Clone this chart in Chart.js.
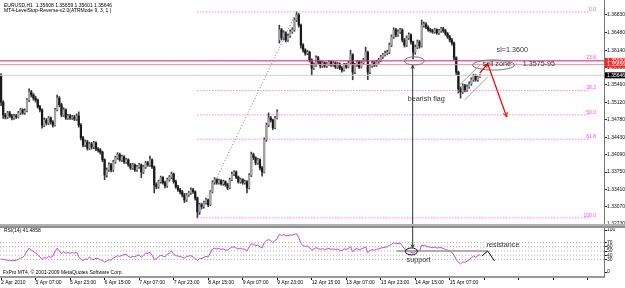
<!DOCTYPE html>
<html><head><meta charset="utf-8">
<script src="https://cdn.jsdelivr.net/npm/chart.js@4.4.1/dist/chart.umd.min.js"></script>
<style>
html,body{margin:0;padding:0;background:#fff;width:625px;height:288px;overflow:hidden;}
#main{position:absolute;left:0;top:0;}
#rsi{position:absolute;left:0;top:226px;}
</style></head><body>
<canvas id="main" width="625" height="226"></canvas>
<canvas id="rsi" width="625" height="62"></canvas>
<script>
// ---------- DATA ----------
const timeLabels = ['2 Apr 2010','5 Apr 07:00','5 Apr 23:00','6 Apr 15:00','7 Apr 07:00','7 Apr 23:00','8 Apr 15:00','9 Apr 07:00','9 Apr 23:00','12 Apr 15:00','13 Apr 07:00','13 Apr 23:00','14 Apr 15:00','15 Apr 07:00'];
const priceTicks = [1.36830,1.36480,1.36140,1.35800,1.35460,1.35120,1.34780,1.34430,1.34090,1.33750,1.33410,1.33070,1.32730];
const rsiTicks = [100,70,60,50,40,30,0];
const rsiLevels = [70,60,50,40,30];

const opens = [
1.3565,1.3512,1.3487,1.3483,1.3491,1.3485,1.3481,1.3485,1.3483,1.3491,
1.3497,1.3491,1.3495,1.3516,1.3532,1.3526,1.3520,1.3516,1.3503,1.3497,
1.3467,1.3477,1.3471,1.3481,1.3473,1.3467,1.3497,1.3520,1.3507,1.3487,
1.3497,1.3481,1.3485,1.3481,1.3483,1.3479,1.3485,1.3467,1.3442,1.3428,
1.3434,1.3422,1.3430,1.3424,1.3432,1.3420,1.3418,1.3414,1.3399,1.3369,
1.3379,1.3389,1.3379,1.3395,1.3403,1.3409,1.3399,1.3405,1.3395,1.3399,
1.3389,1.3383,1.3389,1.3379,1.3385,1.3389,1.3375,1.3385,1.3393,1.3389,
1.3399,1.3385,1.3350,1.3346,1.3356,1.3364,1.3354,1.3348,1.3360,1.3365,
1.3371,1.3356,1.3346,1.3340,1.3336,1.3330,1.3320,1.3330,1.3334,1.3340,
1.3336,1.3324,1.3297,1.3311,1.3307,1.3315,1.3320,1.3311,1.3336,1.3354,
1.3360,1.3354,1.3358,1.3352,1.3356,1.3350,1.3344,1.3360,1.3371,1.3375,
1.3365,1.3356,1.3360,1.3354,1.3356,1.3344,1.3369,1.3409,1.3403,1.3393,
1.3399,1.3383,1.3375,1.3438,1.3467,1.3481,1.3477,1.3462,1.3481,1.3634,
1.3654,1.3638,1.3648,1.3634,1.3642,1.3650,1.3654,1.3673,1.3683,1.3663,
1.3624,1.3614,1.3608,1.3610,1.3595,1.3579,1.3585,1.3599,1.3591,1.3583,
1.3589,1.3583,1.3587,1.3591,1.3585,1.3589,1.3581,1.3587,1.3579,1.3575,
1.3585,1.3581,1.3589,1.3605,1.3571,1.3585,1.3591,1.3581,1.3589,1.3595,
1.3610,1.3571,1.3583,1.3589,1.3585,1.3591,1.3595,1.3601,1.3605,1.3608,
1.3610,1.3624,1.3640,1.3654,1.3644,1.3650,1.3654,1.3634,1.3624,1.3638,
1.3644,1.3630,1.3610,1.3620,1.3630,1.3622,1.3663,1.3665,1.3659,1.3654,
1.3652,1.3650,1.3654,1.3648,1.3652,1.3656,1.3652,1.3646,1.3640,1.3634,
1.3628,1.3599,1.3571,1.3538,1.3532,1.3544,1.3536,1.3542,1.3548,1.3556,
1.3563,1.3556,1.35608];

const highs = [
1.3568,1.3515,1.3490,1.3494,1.3494,1.3488,1.3488,1.3488,1.3494,1.3500,
1.3499,1.3499,1.3519,1.3538,1.3535,1.3529,1.3524,1.3518,1.3506,1.3499,
1.3481,1.3480,1.3484,1.3483,1.3476,1.3500,1.3526,1.3523,1.3510,1.3501,
1.3499,1.3488,1.3488,1.3486,1.3486,1.3489,1.3493,1.3470,1.3445,1.3438,
1.3437,1.3433,1.3433,1.3435,1.3434,1.3423,1.3421,1.3416,1.3401,1.3383,
1.3393,1.3392,1.3398,1.3406,1.3413,1.3412,1.3408,1.3407,1.3402,1.3401,
1.3392,1.3392,1.3391,1.3388,1.3392,1.3391,1.3388,1.3396,1.3396,1.3406,
1.3401,1.3387,1.3354,1.3359,1.3367,1.3366,1.3357,1.3363,1.3368,1.3375,
1.3373,1.3359,1.3349,1.3343,1.3339,1.3333,1.3333,1.3337,1.3344,1.3343,
1.3338,1.3326,1.3314,1.3314,1.3318,1.3324,1.3322,1.3339,1.3358,1.3364,
1.3362,1.3361,1.3360,1.3359,1.3358,1.3353,1.3363,1.3375,1.3378,1.3377,
1.3367,1.3363,1.3362,1.3359,1.3358,1.3372,1.3414,1.3412,1.3405,1.3402,
1.3401,1.3386,1.3442,1.3471,1.3491,1.3484,1.3479,1.3484,1.3497,1.3663,
1.3657,1.3652,1.3650,1.3646,1.3654,1.3658,1.3677,1.3689,1.3686,1.3665,
1.3627,1.3617,1.3614,1.3612,1.3597,1.3589,1.3603,1.3602,1.3594,1.3592,
1.3591,1.3590,1.3594,1.3593,1.3592,1.3591,1.3590,1.3589,1.3582,1.3588,
1.3588,1.3592,1.3614,1.3607,1.3588,1.3594,1.3593,1.3592,1.3598,1.3620,
1.3612,1.3586,1.3592,1.3592,1.3594,1.3598,1.3604,1.3608,1.3612,1.3614,
1.3628,1.3644,1.3658,1.3657,1.3654,1.3657,1.3656,1.3637,1.3642,1.3648,
1.3646,1.3632,1.3624,1.3634,1.3633,1.3673,1.3669,1.3668,1.3662,1.3657,
1.3655,1.3657,1.3656,1.3655,1.3659,1.3659,1.3655,1.3649,1.3643,1.3637,
1.3630,1.3601,1.3573,1.3542,1.3548,1.3547,1.3546,1.3552,1.3560,1.3567,
1.3566,1.3564,1.35659];

const lows = [
1.3505,1.3480,1.3479,1.3480,1.3482,1.3477,1.3478,1.3480,1.3481,1.3488,
1.3488,1.3488,1.3493,1.3513,1.3522,1.3516,1.3512,1.3500,1.3493,1.3461,
1.3464,1.3467,1.3468,1.3469,1.3463,1.3465,1.3495,1.3503,1.3483,1.3484,
1.3478,1.3478,1.3478,1.3478,1.3476,1.3476,1.3463,1.3438,1.3424,1.3425,
1.3418,1.3419,1.3420,1.3421,1.3417,1.3414,1.3410,1.3395,1.3360,1.3365,
1.3376,1.3375,1.3376,1.3392,1.3400,1.3396,1.3396,1.3392,1.3392,1.3386,
1.3380,1.3380,1.3376,1.3376,1.3382,1.3364,1.3372,1.3382,1.3386,1.3386,
1.3382,1.3334,1.3342,1.3343,1.3353,1.3351,1.3344,1.3345,1.3357,1.3362,
1.3353,1.3343,1.3337,1.3332,1.3326,1.3315,1.3317,1.3327,1.3331,1.3333,
1.3320,1.3285,1.3292,1.3303,1.3304,1.3312,1.3307,1.3309,1.3334,1.3351,
1.3351,1.3351,1.3349,1.3349,1.3347,1.3340,1.3342,1.3358,1.3368,1.3362,
1.3353,1.3353,1.3351,1.3351,1.3334,1.3342,1.3366,1.3399,1.3389,1.3390,
1.3379,1.3367,1.3373,1.3435,1.3464,1.3473,1.3458,1.3460,1.3479,1.3628,
1.3634,1.3634,1.3630,1.3631,1.3639,1.3647,1.3651,1.3670,1.3659,1.3618,
1.3610,1.3604,1.3605,1.3591,1.3565,1.3576,1.3582,1.3587,1.3579,1.3580,
1.3580,1.3580,1.3584,1.3582,1.3582,1.3578,1.3578,1.3576,1.3571,1.3573,
1.3578,1.3579,1.3587,1.3556,1.3568,1.3582,1.3578,1.3579,1.3586,1.3593,
1.3556,1.3568,1.3580,1.3582,1.3582,1.3588,1.3592,1.3598,1.3602,1.3605,
1.3607,1.3621,1.3637,1.3640,1.3641,1.3647,1.3630,1.3620,1.3621,1.3635,
1.3626,1.3597,1.3606,1.3617,1.3618,1.3620,1.3659,1.3656,1.3651,1.3649,
1.3647,1.3647,1.3645,1.3645,1.3649,1.3649,1.3643,1.3637,1.3630,1.3624,
1.3595,1.3566,1.3530,1.3520,1.3529,1.3532,1.3533,1.3539,1.3545,1.3553,
1.3553,1.3553,1.35601];

const closes = [
1.3512,1.3487,1.3483,1.3491,1.3485,1.3481,1.3485,1.3483,1.3491,1.3497,
1.3491,1.3495,1.3516,1.3532,1.3526,1.3520,1.3516,1.3503,1.3497,1.3467,
1.3477,1.3471,1.3481,1.3473,1.3467,1.3497,1.3520,1.3507,1.3487,1.3497,
1.3481,1.3485,1.3481,1.3483,1.3479,1.3485,1.3467,1.3442,1.3428,1.3434,
1.3422,1.3430,1.3424,1.3432,1.3420,1.3418,1.3414,1.3399,1.3369,1.3379,
1.3389,1.3379,1.3395,1.3403,1.3409,1.3399,1.3405,1.3395,1.3399,1.3389,
1.3383,1.3389,1.3379,1.3385,1.3389,1.3375,1.3385,1.3393,1.3389,1.3399,
1.3385,1.3350,1.3346,1.3356,1.3364,1.3354,1.3348,1.3360,1.3365,1.3371,
1.3356,1.3346,1.3340,1.3336,1.3330,1.3320,1.3330,1.3334,1.3340,1.3336,
1.3324,1.3297,1.3311,1.3307,1.3315,1.3320,1.3311,1.3336,1.3354,1.3360,
1.3354,1.3358,1.3352,1.3356,1.3350,1.3344,1.3360,1.3371,1.3375,1.3365,
1.3356,1.3360,1.3354,1.3356,1.3344,1.3369,1.3409,1.3403,1.3393,1.3399,
1.3383,1.3375,1.3438,1.3467,1.3481,1.3477,1.3462,1.3481,1.3493,1.3654,
1.3638,1.3648,1.3634,1.3642,1.3650,1.3654,1.3673,1.3683,1.3663,1.3624,
1.3614,1.3608,1.3610,1.3595,1.3579,1.3585,1.3599,1.3591,1.3583,1.3589,
1.3583,1.3587,1.3591,1.3585,1.3589,1.3581,1.3587,1.3579,1.3575,1.3585,
1.3581,1.3589,1.3605,1.3571,1.3585,1.3591,1.3581,1.3589,1.3595,1.3610,
1.3571,1.3583,1.3589,1.3585,1.3591,1.3595,1.3601,1.3605,1.3608,1.3610,
1.3624,1.3640,1.3654,1.3644,1.3650,1.3654,1.3634,1.3624,1.3638,1.3644,
1.3630,1.3610,1.3620,1.3630,1.3622,1.3663,1.3665,1.3659,1.3654,1.3652,
1.3650,1.3654,1.3648,1.3652,1.3656,1.3652,1.3646,1.3640,1.3634,1.3628,
1.3599,1.3571,1.3538,1.3532,1.3544,1.3536,1.3542,1.3548,1.3556,1.3563,
1.3556,1.3561,1.35646];

const rsiValues = [
31,30,29,28,27,27,27,28,30,33,
35,40,50,57,52,49,46,40,36,30,
35,33,37,35,38,48,57,50,44,48,
45,46,45,46,45,47,36,30,28,31,
30,36,31,29,33,32,29,27,24,26,
29,28,33,36,39,37,40,41,42,37,
35,37,36,39,41,35,40,45,44,47,
40,30,32,36,40,38,36,42,45,50,
42,39,38,37,35,33,37,38,39,36,
32,27,32,32,35,37,36,45,55,57,
55,56,54,55,53,52,56,59,60,57,
55,56,55,54,50,60,67,66,63,64,
60,57,70,75,77,75,70,75,79,90,
87,89,86,87,88,88,90,91,82,68,
63,61,62,58,52,55,58,56,54,56,
53,55,56,54,55,53,55,52,51,55,
54,56,60,48,54,56,53,55,57,60,
46,51,53,52,54,55,57,58,59,60,
63,66,70,67,68,69,62,55,53,50,
47,45,48,52,50,64,63,62,60,59,
58,59,57,58,58,56,54,52,49,47,
40,30,23,19,24,23,26,29,34,38,
35,39,41.49];

// annotation anchors (bar index, price / rsi)
const fibLevels = [0, 23.6, 38.2, 50, 61.8, 100];
const fibHigh = 1.3689, fibLow = 1.3285;
const fibLowBar = 91, fibHighBar = 137, fibEndBar = 273, fibLabelBar = 275.8;
const levelLines = [1.3593, 1.35856];
const bidPrice = 1.35646;
const flagUpper = [[212.6, 1.35457], [221.9, 1.35849]];
const flagLower = [[214.9, 1.35163], [225.6, 1.35614]];
const redArrow = [[221.9, 1.35692], [225.6, 1.35869], [234.4, 1.34829]];
const touchEllipse = {bar: 191.6, price: 1.3593, rx: 4.6, ry: 0.0008};
const sellEllipse = {bar: 228.3, price: 1.35849, rx: 9.7, ry: 0.001};
const linkBar = 190.8, linkTopPrice = 1.3584, linkRsiTip = 58;
const mainTexts = [
  {t: 'sl=1.3600', bar: 229.7, price: 1.36143},
  {t: 'sell zone', bar: 223.2, price: 1.35859},
  {t: '1.3575-95', bar: 241.8, price: 1.35859},
  {t: 'bearish flag', bar: 188.5, price: 1.35182}
];
const supportEllipse = {bar: 190.2, rsi: 49, rx: 2.8, ry: 8.3};
const resistLine = [[183.4, 50], [225.6, 50]];
const resistHat = [[222.8, 38], [225.6, 50], [228.8, 26]];
const rsiTexts = [
  {t: 'support', bar: 188, rsi: 28.6},
  {t: 'resistance', bar: 225.1, rsi: 64.3}
];
const headerLine1 = 'EURUSD,H1  1.35608 1.35659 1.35601 1.35646';
const headerLine2 = 'MT4-LevelStop-Reverse-v2.0(ATRMode 9, 3, 1 )';
const rsiTitle = 'RSI(14) 41.4858';
const copyright = 'FxPro MT4, \u00A9 2001-2009 MetaQuotes Software Corp.';

// ---------- helpers ----------
const SLOTS = 280;
const slotLabels = Array.from({length: SLOTS}, (_, i) => (i % 16 === 0 && timeLabels[i / 16]) ? timeLabels[i / 16] : '');
const FONT = '"Liberation Sans", Arial, sans-serif';

function seg(ctx, pts, color, width, dash) {
  ctx.save(); ctx.strokeStyle = color; ctx.lineWidth = width; ctx.setLineDash(dash || []);
  ctx.beginPath();
  pts.forEach((p, k) => k ? ctx.lineTo(p[0], p[1]) : ctx.moveTo(p[0], p[1]));
  ctx.stroke(); ctx.restore();
}
function head(ctx, x0, y0, x1, y1, size, color) {
  const ang = Math.atan2(y1 - y0, x1 - x0);
  ctx.save(); ctx.strokeStyle = color; ctx.lineWidth = 1; ctx.setLineDash([]);
  ctx.beginPath();
  ctx.moveTo(x1 - size * Math.cos(ang - 0.45), y1 - size * Math.sin(ang - 0.45));
  ctx.lineTo(x1, y1);
  ctx.lineTo(x1 - size * Math.cos(ang + 0.45), y1 - size * Math.sin(ang + 0.45));
  ctx.stroke(); ctx.restore();
}
function ell(ctx, cx, cy, rx, ry, color, w) {
  ctx.save(); ctx.strokeStyle = color; ctx.lineWidth = w; ctx.beginPath();
  ctx.ellipse(cx, cy, Math.abs(rx), Math.abs(ry), 0, 0, Math.PI * 2); ctx.stroke(); ctx.restore();
}
function txt(ctx, s, x, y, size, color, align) {
  ctx.save(); ctx.font = size + 'px ' + FONT; ctx.fillStyle = color;
  ctx.textAlign = align || 'left'; ctx.textBaseline = 'middle'; ctx.fillText(s, x, y); ctx.restore();
}

// ---------- main price chart ----------
const mainOverlay = {
  id: 'mainOverlay',
  afterDraw(chart) {
    const {ctx, chartArea: a, scales} = chart;
    const X = i => scales.x.getPixelForValue(i);
    const Y = p => scales.y.getPixelForValue(p);
    txt(ctx, headerLine1, 4, 5.5, 5, '#000');
    txt(ctx, headerLine2, 4, 11, 5, '#000');
    ctx.save();
    ctx.beginPath(); ctx.rect(a.left, a.top, a.right - a.left, a.bottom - a.top); ctx.clip();
    seg(ctx, [[a.left, Y(bidPrice)], [a.right, Y(bidPrice)]], '#cfcfcf', 1);
    seg(ctx, [[a.left, Y(levelLines[1])], [a.right, Y(levelLines[1])]], '#f09090', 1);
    seg(ctx, [[a.left, Y(levelLines[0])], [a.right, Y(levelLines[0])]], '#d8205a', 1);
    fibLevels.forEach(l => {
      const p = fibHigh - (fibHigh - fibLow) * l / 100;
      seg(ctx, [[X(fibLowBar), Y(p)], [X(fibEndBar), Y(p)]], '#ff44ff', 1, [1, 2]);
      txt(ctx, l.toFixed(1), X(fibLabelBar), Y(p) - 2.5, 5, '#ff44ff', 'right');
    });
    seg(ctx, [[X(fibLowBar), Y(fibLow)], [X(fibHighBar), Y(fibHigh)]], '#7070d0', 1, [1, 2]);
    ell(ctx, X(touchEllipse.bar), Y(touchEllipse.price),
        X(touchEllipse.bar + touchEllipse.rx) - X(touchEllipse.bar),
        Y(touchEllipse.price) - Y(touchEllipse.price + touchEllipse.ry), '#777', 1);
    ell(ctx, X(sellEllipse.bar), Y(sellEllipse.price),
        X(sellEllipse.bar + sellEllipse.rx) - X(sellEllipse.bar),
        Y(sellEllipse.price) - Y(sellEllipse.price + sellEllipse.ry), '#777', 1);
    seg(ctx, flagUpper.map(p => [X(p[0]), Y(p[1])]), '#999', 1);
    seg(ctx, flagLower.map(p => [X(p[0]), Y(p[1])]), '#999', 1);
    const ra = redArrow.map(p => [X(p[0]), Y(p[1])]);
    seg(ctx, ra, '#ff0000', 1.2);
    head(ctx, ra[0][0], ra[0][1], ra[1][0], ra[1][1], 4, '#ff0000');
    head(ctx, ra[1][0], ra[1][1], ra[2][0], ra[2][1], 5, '#ff0000');
    ctx.restore();
    const lx = X(linkBar), ly = Y(linkTopPrice);
    seg(ctx, [[lx, ly], [lx, chart.height]], '#333', 1);
    head(ctx, lx, ly + 10, lx, ly, 3.5, '#333');
    mainTexts.forEach(o => txt(ctx, o.t, X(o.bar), Y(o.price), 7.2, '#333'));
    ctx.fillStyle = '#b0b0b0'; ctx.fillRect(0, a.bottom, chart.width, chart.height - a.bottom);
    const bx = a.right + 1, bw = chart.width - bx;
    [[levelLines[0], '#ff2020'], [levelLines[1], '#ff2020'], [bidPrice, '#000']].forEach(([p, c]) => {
      ctx.fillStyle = c; ctx.fillRect(bx, Y(p) - 3, bw, 6);
    });
    [[levelLines[0], '1.35930'], [levelLines[1], '1.35856'], [bidPrice, '1.35646']].forEach(([p, s]) => {
      txt(ctx, s, bx + 2, Y(p), 5, '#fff');
    });
  }
};

new Chart(document.getElementById('main'), {
  type: 'bar',
  data: {
    labels: slotLabels,
    datasets: [
      { data: lows.map((l, i) => [l, highs[i]]), backgroundColor: '#3a3a3a', barThickness: 1, grouped: false, order: 2 },
      { data: opens.map((o, i) => [o, closes[i]]), backgroundColor: opens.map((o, i) => closes[i] >= o ? '#a4a4a4' : '#1a1a1a'),
        barThickness: 1.6, grouped: false, minBarLength: 1, order: 1 }
    ]
  },
  options: {
    responsive: false, animation: false, devicePixelRatio: 1, events: [],
    layout: { padding: { top: 0, bottom: 2, left: 0, right: 0 } },
    plugins: { legend: { display: false }, tooltip: { enabled: false } },
    scales: {
      x: { type: 'category', offset: true, display: false },
      y: {
        position: 'right', min: 1.3273, max: 1.37124,
        afterBuildTicks: s => { s.ticks = priceTicks.map(v => ({ value: v })); },
        afterFit: s => { s.width = 21; s.paddingTop = 0; s.paddingBottom = 0; },
        grid: { drawOnChartArea: false, drawTicks: true, tickLength: 3, color: '#222' },
        border: { display: true, color: '#777', width: 1 },
        ticks: { autoSkip: false, padding: 0, color: '#111', font: { family: FONT, size: 5 }, callback: v => v.toFixed(5) }
      }
    }
  },
  plugins: [mainOverlay]
});

// ---------- RSI chart ----------
const rsiOverlay = {
  id: 'rsiOverlay',
  beforeDatasetsDraw(chart) {
    const {ctx, chartArea: a, scales} = chart;
    const Y = v => scales.y.getPixelForValue(v);
    rsiLevels.forEach(v => seg(ctx, [[a.left, Y(v)], [a.right, Y(v)]], '#b0b0b0', 1, [1, 2]));
  },
  afterDraw(chart) {
    const {ctx, chartArea: a, scales} = chart;
    const X = i => scales.x.getPixelForValue(i);
    const Y = v => scales.y.getPixelForValue(v);
    ctx.fillStyle = '#909090'; ctx.fillRect(0, 0, chart.width, a.top);
    txt(ctx, rsiTitle, 4, 5, 5, '#000');
    txt(ctx, copyright, 3, 47, 5, '#000');
    seg(ctx, resistLine.map(p => [X(p[0]), Y(p[1])]), '#999', 1.5);
    seg(ctx, resistHat.map(p => [X(p[0]), Y(p[1])]), '#111', 1);
    ell(ctx, X(supportEllipse.bar), Y(supportEllipse.rsi),
        X(supportEllipse.bar + supportEllipse.rx) - X(supportEllipse.bar),
        Y(supportEllipse.rsi) - Y(supportEllipse.rsi + supportEllipse.ry), '#111', 1);
    rsiTexts.forEach(o => txt(ctx, o.t, X(o.bar), Y(o.rsi), 7.2, '#333'));
    const lx = X(linkBar);
    seg(ctx, [[lx, 0], [lx, Y(linkRsiTip)]], '#333', 1);
    head(ctx, lx, Y(linkRsiTip) - 10, lx, Y(linkRsiTip), 3.5, '#333');
  }
};

new Chart(document.getElementById('rsi'), {
  type: 'line',
  data: {
    labels: slotLabels,
    datasets: [{ data: rsiValues, borderColor: '#c24ccc', borderWidth: 1, pointRadius: 0, tension: 0, fill: false }]
  },
  options: {
    responsive: false, animation: false, devicePixelRatio: 1, events: [],
    layout: { padding: { top: 2, bottom: 0, left: 0, right: 0 } },
    plugins: { legend: { display: false }, tooltip: { enabled: false } },
    scales: {
      x: {
        type: 'category', offset: true,
        afterFit: s => { s.height = 11; s.paddingLeft = 0; s.paddingRight = 0; },
        grid: { drawOnChartArea: false, drawTicks: true, tickLength: 3, offset: false,
                color: c => (c.index % 16 === 0 ? '#000' : 'rgba(0,0,0,0)') },
        border: { display: true, color: '#999', width: 2 },
        ticks: { autoSkip: false, maxRotation: 0, minRotation: 0, align: 'start', padding: 0, color: '#000',
                 font: { family: FONT, size: 5 } }
      },
      y: {
        position: 'right', min: -11.9, max: 104.8,
        afterBuildTicks: s => { s.ticks = rsiTicks.map(v => ({ value: v })); },
        afterFit: s => { s.width = 21; s.paddingTop = 0; s.paddingBottom = 0; },
        grid: { drawOnChartArea: false, drawTicks: true, tickLength: 3, color: '#222' },
        border: { display: true, color: '#777', width: 1 },
        ticks: { autoSkip: false, padding: 0, color: '#111', font: { family: FONT, size: 5 } }
      }
    }
  },
  plugins: [rsiOverlay]
});
</script>
</body></html>
